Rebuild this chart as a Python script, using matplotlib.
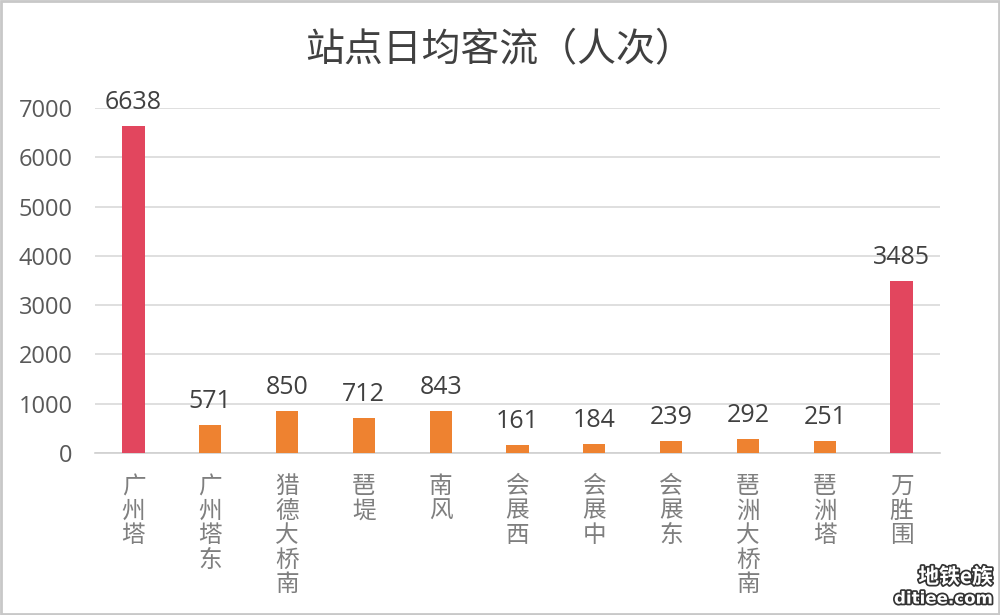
import matplotlib.pyplot as plt
import matplotlib.patheffects as pe
from matplotlib.patches import Rectangle

plt.rcParams['font.family'] = ['Noto Sans CJK SC', 'DejaVu Sans']

# Data
stations = ['广州塔', '广州塔东', '猎德大桥南', '琶堤', '南风', '会展西',
            '会展中', '会展东', '琶洲大桥南', '琶洲塔', '万胜围']
daily_flow = [6638, 571, 850, 712, 843, 161, 184, 239, 292, 251, 3485]
highlight = ['广州塔', '万胜围']
y_ticks = [0, 1000, 2000, 3000, 4000, 5000, 6000, 7000]

red = '#E2465E'
orange = '#EE8230'
colors = [red if s in highlight else orange for s in stations]

fig = plt.figure(figsize=(10, 6.15), dpi=100)
ax = fig.add_axes([0.095, 0.2634, 0.845, 0.561])

x = range(len(stations))
ax.bar(x, daily_flow, width=0.29, color=colors, zorder=3)

# value labels
for i, v in enumerate(daily_flow):
    ax.annotate(str(v), (i, v), xytext=(0, 8), textcoords='offset points',
                ha='center', va='bottom', fontsize=18, color='#404040',
                family=['Open Sans', 'DejaVu Sans'])

ax.set_xlim(-0.5, len(stations) - 0.5)
ax.set_ylim(0, 7000)
ax.set_yticks(y_ticks)
ax.set_yticklabels([str(t) for t in y_ticks], family=['Open Sans', 'DejaVu Sans'],
                   fontsize=17, color='#595959')
ax.set_xticks(list(x))
ax.set_xticklabels(['\n'.join(s) for s in stations], fontsize=17, color='#7F7F7F',
                   va='top', linespacing=1.08)
ax.tick_params(axis='both', length=0)
ax.tick_params(axis='x', pad=16)
ax.tick_params(axis='y', pad=16)
ax.grid(axis='y', color='#D9D9D9', linewidth=1.2, zorder=0)
for side in ['top', 'right', 'left']:
    ax.spines[side].set_visible(False)
ax.spines['bottom'].set_color('#D0D0D0')
ax.spines['bottom'].set_linewidth(1.2)

fig.text(0.5, 0.918, '站点日均客流（人次）', ha='center', va='center',
         fontsize=28, color='#404040')

# watermark
wm = dict(ha='right', color='white', fontweight='bold',
          path_effects=[pe.withStroke(linewidth=2.5, foreground='#333333')])
fig.text(0.993, 0.045, '地铁e族', va='bottom', fontsize=15, **wm)
fig.text(0.993, 0.012, 'ditiee.com', va='bottom', fontsize=12,
         family=['DejaVu Sans'], **wm)

# frame
fig.patches.append(Rectangle((0.001, 0.002), 0.998, 0.996, transform=fig.transFigure,
                             fill=False, edgecolor='#C8C8C8', linewidth=2))

plt.savefig('out.png', dpi=100)
